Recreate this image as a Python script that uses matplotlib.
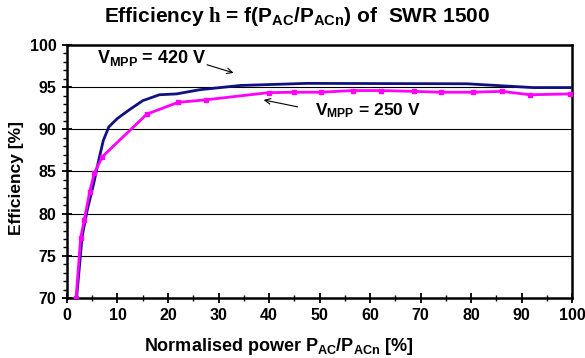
import matplotlib
matplotlib.use("Agg")
import matplotlib.pyplot as plt
from matplotlib.ticker import MultipleLocator

plt.rcParams['font.family'] = ['Liberation Sans', 'DejaVu Sans']
plt.rcParams['font.weight'] = 'bold'
plt.rcParams['mathtext.fontset'] = 'custom'
plt.rcParams['mathtext.rm'] = 'Liberation Sans:bold'
plt.rcParams['mathtext.it'] = 'Liberation Sans:bold'
plt.rcParams['mathtext.bf'] = 'Liberation Sans:bold'
plt.rcParams['mathtext.sf'] = 'Liberation Serif'

# V_MPP = 420 V (no markers)
x420 = [1.9, 3.0, 4.0, 5.3, 6.3, 7.2, 8.3, 10.0, 12.3, 15.0, 18.3, 21.7, 26.3, 34.3, 47.5, 79.2, 92.3, 100.0]
e420 = [70.0, 77.3, 80.4, 83.6, 86.4, 88.7, 90.3, 91.3, 92.3, 93.4, 94.1, 94.2, 94.7, 95.2, 95.45, 95.4, 94.95, 94.95]

# V_MPP = 250 V (markers)
x250 = [1.8, 2.7, 3.4, 4.5, 5.4, 7.0, 15.8, 22.0, 27.5, 39.9, 44.9, 50.2, 56.6, 62.2, 68.6, 74.0, 80.3, 86.1, 91.7, 99.5]
e250 = [70.0, 77.1, 79.2, 82.6, 84.8, 86.75, 91.8, 93.2, 93.5, 94.35, 94.4, 94.4, 94.6, 94.6, 94.5, 94.4, 94.4, 94.5, 94.1, 94.2]

xticks = [0, 10, 20, 30, 40, 50, 60, 70, 80, 90, 100]
yticks = [70, 75, 80, 85, 90, 95, 100]

fig = plt.figure(figsize=(5.85, 3.58), dpi=100)
ax = fig.add_axes([0.1145, 0.1676, 0.8635, 0.7067])

ax.plot(x420, e420, color='#101080', lw=2.0, zorder=3)
ax.plot(x250, e250, color='#ff00ff', lw=2.0, marker='s', ms=3.5, zorder=4)

ax.set_xlim(0, 100)
ax.set_ylim(70, 100)
ax.set_xticks(xticks)
ax.set_yticks(yticks)
ax.xaxis.set_minor_locator(MultipleLocator(5))
ax.yaxis.set_minor_locator(MultipleLocator(1))
ax.tick_params(axis='both', which='major', direction='inout', length=7, width=1.3, labelsize=11.5)
ax.tick_params(axis='y', which='major', pad=4)
ax.tick_params(axis='y', which='minor', direction='out', length=3, width=1)
ax.tick_params(axis='x', which='minor', direction='inout', length=4, width=1)
for lab in ax.get_xticklabels() + ax.get_yticklabels():
    lab.set_fontweight('bold')

for y in [75, 80, 85, 90, 95]:
    ax.axhline(y, color='black', lw=0.8, zorder=1)

for s in ax.spines.values():
    s.set_linewidth(1.8)

ax.set_xlabel('Normalised power P$_{AC}$/P$_{ACn}$ [%]', fontsize=13, fontweight='bold')
ax.xaxis.set_label_coords(0.42, -0.15)
ax.set_ylabel('Efficiency [%]', fontsize=12.5, fontweight='bold')
ax.yaxis.set_label_coords(-0.085, 0.475)
fig.text(0.508, 0.955, 'Efficiency $\\mathsf{h}$ = f(P$_{AC}$/P$_{ACn}$) of  SWR 1500',
         ha='center', va='center', fontsize=15, fontweight='bold')

ax.text(6.0, 98.5, 'V$_{MPP}$ = 420 V', fontsize=13, fontweight='bold', va='center', ha='left')
ax.annotate('', xy=(33.5, 96.6), xytext=(27.2, 97.75),
            arrowprops=dict(arrowstyle='->', color='black', lw=0.8))
ax.text(49.0, 92.2, 'V$_{MPP}$ = 250 V', fontsize=12.5, fontweight='bold', va='center', ha='left')
ax.annotate('', xy=(38.4, 93.55), xytext=(46.2, 92.6),
            arrowprops=dict(arrowstyle='->', color='black', lw=0.8))

fig.savefig('out.png', dpi=100)
